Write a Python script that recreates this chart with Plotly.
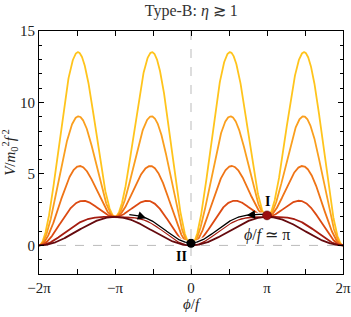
import numpy as np
import plotly.graph_objects as go

# curve parameters (peak heights ~ 2, 2, 3.1, 5.5, 9, 13.5)
coeffs = [12.5, 8.0, 4.5, 2.0, 0.5, 0.0]
colors = ["#FFC41C", "#FA9F1E", "#EF7416", "#DC4A12", "#A51C10", "#650A0E"]
xtick_vals = [-2*np.pi, -np.pi, 0, np.pi, 2*np.pi]
xtick_text = ["−2π", "−π", "0", "π", "2π"]
point_I = (np.pi, 2.1)
point_II = (0.0, 0.15)

phi = np.linspace(-2*np.pi, 2*np.pi, 1200)

def V(p, a):
    return 1 - np.cos(p) + a*np.sin(p)**2

fig = go.Figure()
for a, c in zip(coeffs, colors):
    fig.add_trace(go.Scatter(x=phi, y=V(phi, a), mode="lines",
                             line=dict(color=c, width=1.8), hoverinfo="skip"))

# trajectories
for lo, hi in [(-2.55, 0.0), (0.0, np.pi)]:
    t = np.linspace(lo, hi, 300)
    y = V(t, 0.5) + 0.17
    fig.add_trace(go.Scatter(x=t, y=y, mode="lines", line=dict(color="white", width=3.6), hoverinfo="skip"))
    fig.add_trace(go.Scatter(x=t, y=y, mode="lines", line=dict(color="black", width=1.3), hoverinfo="skip"))

# points
fig.add_trace(go.Scatter(x=[point_II[0]], y=[point_II[1]], mode="markers",
                         marker=dict(color="black", size=9), hoverinfo="skip"))
fig.add_trace(go.Scatter(x=[point_I[0]], y=[point_I[1]], mode="markers",
                         marker=dict(color="#9A0E0E", size=9, line=dict(color="#5a0505", width=0.5)), hoverinfo="skip"))

# arrowheads
for xt, dx in [(-1.85, -0.25), (2.3, 0.3)]:
    yt = V(xt, 0.5) + 0.17
    yb = V(xt + dx, 0.5) + 0.17
    fig.add_annotation(x=xt, y=yt, ax=xt + dx, ay=yb, xref="x", yref="y", axref="x", ayref="y",
                       showarrow=True, arrowhead=2, arrowsize=1.3, arrowwidth=1.3, arrowcolor="black", text="")

font = "Liberation Serif"
fig.add_annotation(x=point_I[0], y=3.05, text="<b>I</b>", showarrow=False, font=dict(size=14, color="black", family=font))
fig.add_annotation(x=-0.38, y=-0.75, text="<b>II</b>", showarrow=False, font=dict(size=14, color="black", family=font))
fig.add_annotation(x=np.pi, y=0.75, text="<i>ϕ</i>/<i>f</i> ≃ π", showarrow=False, font=dict(size=16, color="#222", family=font))

fig.add_shape(type="line", x0=0, x1=0, y0=-2, y1=15, line=dict(color="#bbbbbb", width=1, dash="dash"), layer="below")
fig.add_shape(type="line", x0=-2*np.pi, x1=2*np.pi, y0=0, y1=0, line=dict(color="#bbbbbb", width=1, dash="dash"), layer="below")

fig.update_layout(
    width=351, height=317,
    margin=dict(l=39, r=8, t=31, b=43, autoexpand=False),
    paper_bgcolor="white", plot_bgcolor="white",
    showlegend=False,
    font=dict(family=font, size=15, color="#222"),
    title=dict(text="Type-B: <i>η</i> ≳ 1", x=0.545, xanchor="center", y=0.985, yanchor="top",
               font=dict(size=16, family=font, color="#333")),
    xaxis=dict(range=[-2*np.pi, 2*np.pi], tickvals=xtick_vals, ticktext=xtick_text, automargin=False,
               ticks="inside", ticklen=5, tickcolor="black", mirror="ticks", showline=True,
               linecolor="black", linewidth=1, showgrid=False, zeroline=False,
               minor=dict(tickmode="linear", tick0=0, dtick=np.pi/2, ticks="inside", ticklen=5,
                          tickcolor="black", showgrid=False),
               title=dict(text="<i>ϕ</i>/<i>f</i>", standoff=2, font=dict(size=15, color="#222")),
               tickfont=dict(size=15, color="#222")),
    yaxis=dict(range=[-2, 15], tickvals=[0, 5, 10, 15], automargin=False,
               ticks="inside", ticklen=5, tickcolor="black", mirror="ticks", showline=True,
               linecolor="black", linewidth=1, showgrid=False, zeroline=False,
               minor=dict(dtick=1, ticks="inside", ticklen=3, tickcolor="black", showgrid=False),
               title=dict(text="<i>V</i>/<i>m</i><sub>0</sub><sup>2</sup><i>f</i><sup> 2</sup>", standoff=2,
                          font=dict(size=15, color="#222")),
               tickfont=dict(size=15, color="#222")),
)

fig.write_html("out.html", config={"displayModeBar": False},
               post_script="document.body.style.margin='0';document.body.style.overflow='hidden';")
